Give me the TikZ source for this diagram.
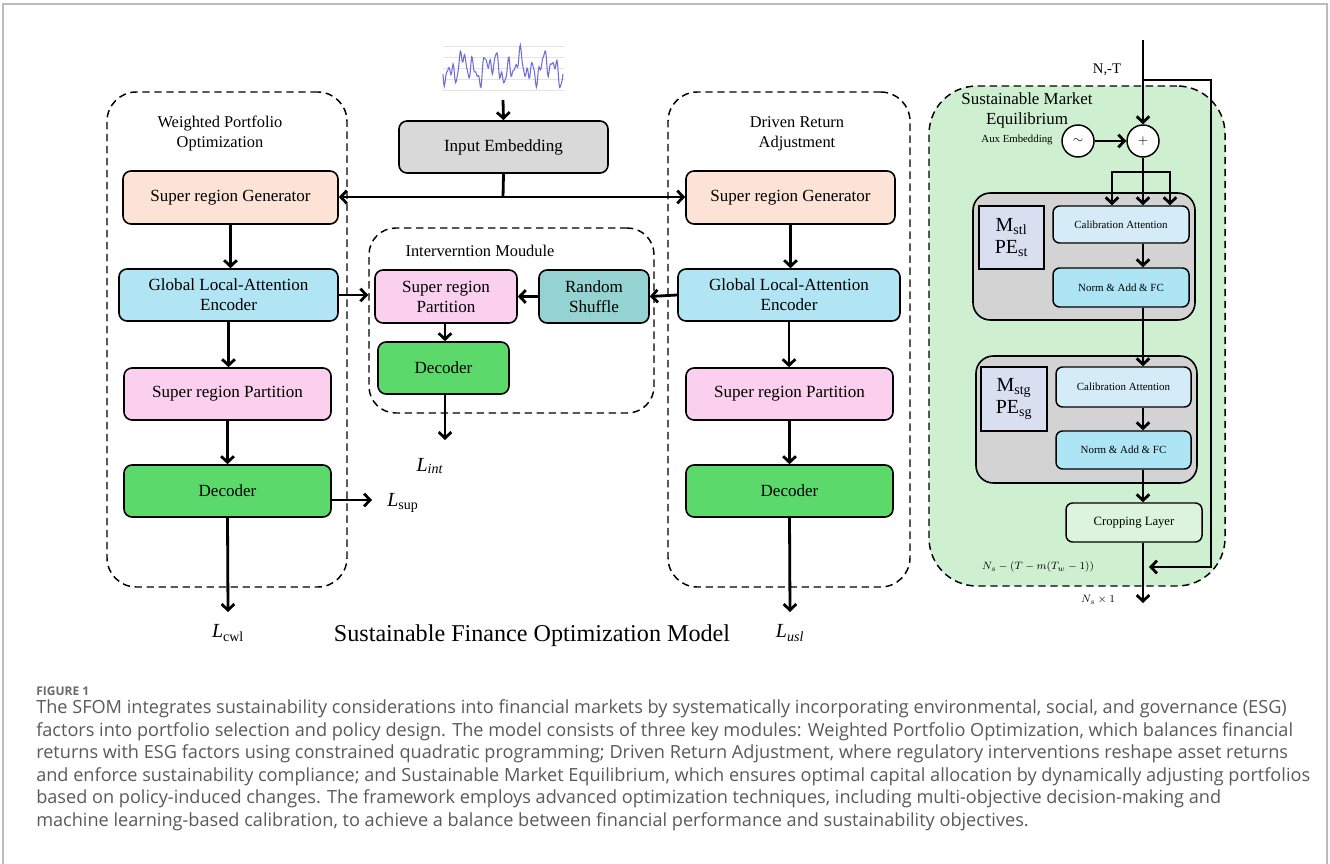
\documentclass[tikz,border=0pt]{standalone}
\usepackage{fontspec}
\setmainfont{Liberation Serif}
\newfontfamily\capfont{Open Sans}
\usetikzlibrary{arrows.meta,calc}
\definecolor{cPeach}{HTML}{FDE2D6}
\definecolor{cEnc}{HTML}{B1E5F4}
\definecolor{cPink}{HTML}{FBD0EF}
\definecolor{cDec}{HTML}{5BD96B}
\definecolor{cTeal}{HTML}{94D3D1}
\definecolor{cInp}{HTML}{D9D9D9}
\definecolor{cGreenBg}{HTML}{CEF0D0}
\definecolor{cGrayMod}{HTML}{D3D3D3}
\definecolor{cCal}{HTML}{D5EBF7}
\definecolor{cNorm}{HTML}{ADE5F4}
\definecolor{cMbox}{HTML}{D9DFF0}
\definecolor{cCrop}{HTML}{DCF3DC}
\definecolor{cPlot}{HTML}{6E6ED8}
\definecolor{cCap}{HTML}{595959}
\definecolor{cFrame}{HTML}{BBBBBB}
\tikzset{
  sz/.style 2 args={minimum width=#1*0.75pt, minimum height=#2*0.75pt},
  box/.style={draw, line width=1.2pt, rounded corners=6pt, inner sep=0pt, align=center,
    font=\fontsize{12.8}{15}\selectfont},
  smallbox/.style={draw, line width=1.1pt, rounded corners=5pt, inner sep=0pt, align=center,
    font=\fontsize{8.2}{10}\selectfont},
  modbox/.style={draw, line width=1.2pt, rounded corners=13pt, inner sep=0pt, fill=cGrayMod},
  dbox/.style={draw, line width=1.1pt, dash pattern=on 5.5pt off 3.5pt, rounded corners=22pt, inner sep=0pt},
  ttl/.style={align=center, font=\fontsize{12.3}{15}\selectfont, inner sep=0pt},
  arr/.style={line width=2.1pt, -{Straight Barb[length=4.5pt,width=9.5pt]}},
  ln/.style={line width=2.1pt},
  circ/.style={draw, circle, line width=1.1pt, fill=white, inner sep=0pt, minimum size=24pt},
  lbl/.style={font=\fontsize{15}{17}\selectfont, inner sep=0pt},
  captxt/.style={font=\capfont\fontsize{13.6}{16}\selectfont, text=cCap, inner sep=0pt, anchor=west}
}
\begin{document}
\begin{tikzpicture}[x=0.75pt,y=-0.75pt]
\useasboundingbox (0,0) rectangle (1330,863);
\draw[cFrame, line width=0.8pt] (3,870) -- (3,4) -- (1327,4) -- (1327,870);

% ---- dashed modules ----
\node[dbox, sz={240}{495}] (lmod) at (227,339.5) {};
\node[dbox, sz={242}{495}] (rmod) at (789,339.5) {};
\node[dbox, sz={285}{185}, rounded corners=20pt] (imod) at (511.5,320.5) {};
\node[dbox, sz={296}{500}, fill=cGreenBg, rounded corners=36pt] (gmod) at (1077,336) {};

\node[ttl] (ltitle) at (220,133) {Weighted Portfolio\\Optimization};
\node[ttl] (rtitle) at (797,134) {Driven Return\\Adjustment};
\node[ttl] (ititle) at (480,251) {Interverntion Moudule};
\node[ttl, font=\fontsize{12.7}{15}\selectfont] (gtitle) at (1027,110) {Sustainable Market\\Equilibrium};

% ---- input signal plot ----
\foreach \gy in {46,57,68,79,90} \draw[gray!22, line width=0.4pt] (443,\gy) -- (565,\gy);
\draw[cPlot, line width=0.8pt] plot[domain=0:120, samples=181]
  ({443+\x}, {68 + 7*sin(\x*13) + 8*sin(\x*31+40) + 6*sin(\x*59+10) + 3*sin(\x*97)});
\coordinate (plotb) at (503,100);

% ---- centre ----
\node[box, fill=cInp, sz={209}{52}] (inemb) at (503.5,147) {Input Embedding};
\coordinate (split) at (503,197);

% ---- left column ----
\node[box, fill=cPeach, sz={215}{53}] (lgen) at (230.5,197.5) {Super region Generator};
\node[box, fill=cEnc, sz={219}{52}] (lenc) at (228.5,295) {Global Local-Attention\\Encoder};
\node[box, fill=cPink, sz={207}{52}] (lpart) at (227.5,394) {Super region Partition};
\node[box, fill=cDec, sz={207}{52}] (ldec) at (227.5,491) {Decoder};

% ---- right column ----
\node[box, fill=cPeach, sz={209}{53}] (rgen) at (790.5,197.5) {Super region Generator};
\node[box, fill=cEnc, sz={222}{52}] (renc) at (789,295) {Global Local-Attention\\Encoder};
\node[box, fill=cPink, sz={207}{52}] (rpart) at (789.5,394) {Super region Partition};
\node[box, fill=cDec, sz={207}{52}] (rdec) at (789.5,491) {Decoder};

% ---- intervention ----
\node[box, fill=cPink, sz={142}{53}] (ipart) at (446,296.5) {Super region\\Partition};
\node[box, fill=cTeal, sz={110}{53}] (ishuf) at (594,296.5) {Random\\Shuffle};
\node[box, fill=cDec, sz={131}{52}] (idec) at (443.5,368) {Decoder};

% ---- labels ----
\coordinate (lcwl) at (228,612);
\coordinate (lusl) at (790,612);
\coordinate (lint) at (445,440);
\coordinate (lsup) at (372,500);
\node[lbl] (tcwl) at (228,633) {\textit{L}\textsubscript{cwl}};
\node[lbl] (tusl) at (790,633) {\textit{L}\textsubscript{\textit{usl}}};
\node[lbl] (tint) at (430,466) {\textit{L}\textsubscript{\textit{int}}};
\node[lbl, anchor=west] (tsup) at (387,503) {\textit{L}\textsubscript{sup}};
\node[inner sep=0pt, font=\fontsize{18.1}{20}\selectfont] (mtitle) at (532,636) {Sustainable Finance Optimization Model};

% ---- arrows main ----
\draw[arr] (plotb) -- (inemb.north);
\draw[ln] (inemb.south) -- (split);
\draw[arr] (split) -- (split -| lgen.east);
\draw[arr] (split) -- (split -| rgen.west);
\draw[arr] (lgen.south) -- (lgen.south |- lenc.north);
\draw[arr] (lenc.south) -- (lenc.south |- lpart.north);
\draw[arr] (lpart.south) -- (lpart.south |- ldec.north);
\draw[arr] (ldec.south) -- (lcwl);
\draw[arr] (ldec.east |- lsup) -- (lsup);
\draw[arr] (rgen.south) -- (rgen.south |- renc.north);
\draw[arr] (renc.south) -- (renc.south |- rpart.north);
\draw[arr] (rpart.south) -- (rpart.south |- rdec.north);
\draw[arr] (rdec.south) -- (lusl);
\draw[arr] (lenc.east) -- (lenc.east -| imod.west);
\draw[arr] (renc.west) -- (ishuf.east);
\draw[arr] (ishuf.west) -- (ipart.east);
\draw[arr] (ipart.south -| lint) -- (idec.north -| lint);
\draw[arr] (idec.south -| lint) -- (lint);

% ---- sustainable market equilibrium ----
\node[circ] (tilde) at (1078,141) {$\sim$};
\node[circ] (plus) at (1143,141) {$+$};
\node[inner sep=0pt, font=\fontsize{8.1}{10}\selectfont] (aux) at (1017,140) {Aux Embedding};
\node[inner sep=0pt, font=\fontsize{11}{13}\selectfont] (nt) at (1107,70) {N,-T};

\node[modbox, sz={222}{127}] (g1) at (1084,256.5) {};
\node[smallbox, fill=cCal, sz={136}{37}] (cal1) at (1121,224.5) {Calibration Attention};
\node[smallbox, fill=cNorm, sz={136}{39}] (norm1) at (1121,287.5) {Norm \& Add \& FC};
\node[draw, line width=1.1pt, fill=cMbox, sz={65}{63}, inner sep=0pt, align=center,
  font=\fontsize{15}{17}\selectfont] (m1) at (1011.5,237.5) {M\textsubscript{stl}\\PE\textsubscript{st}};

\node[modbox, sz={221}{127}] (g2) at (1086.5,419.5) {};
\node[smallbox, fill=cCal, sz={135}{40}] (cal2) at (1123.5,387) {Calibration Attention};
\node[smallbox, fill=cNorm, sz={135}{38}] (norm2) at (1123.5,450) {Norm \& Add \& FC};
\node[draw, line width=1.1pt, fill=cMbox, sz={66}{64}, inner sep=0pt, align=center,
  font=\fontsize{15}{17}\selectfont] (m2) at (1014,399) {M\textsubscript{stg}\\PE\textsubscript{sg}};

\node[smallbox, fill=cCrop, sz={136}{39}, font=\fontsize{9.5}{11}\selectfont] (crop) at (1134,522.5) {Cropping Layer};

\coordinate (in) at (1143,40);
\coordinate (br1) at (1211,80);
\coordinate (br2) at (1211,567);
\coordinate (brend) at (1149,567);
\coordinate (sp) at (1143,172);
\coordinate (spl) at (1112,172);
\coordinate (spr) at (1170,172);
\coordinate (out) at (1143,603);
\coordinate (vx) at (1143,0);

\draw[arr] (in) -- (plus.north);
\draw[arr] (in |- br1) -- (br1) -- (br2) -- (brend);
\draw[arr] (tilde.east) -- (plus.west);
\draw[arr] (plus.south) -- (sp |- cal1.north);
\draw[arr] (sp) -- (spl) -- (spl |- cal1.north);
\draw[arr] (sp) -- (spr) -- (spr |- cal1.north);
\draw[arr] (vx |- cal1.south) -- (vx |- norm1.north);
\draw[arr] (vx |- norm1.south) -- (vx |- cal2.north);
\draw[arr] (vx |- cal2.south) -- (vx |- norm2.north);
\draw[arr] (vx |- norm2.south) -- (vx |- crop.north);
\draw[arr] (vx |- crop.south) -- (out);

\node[inner sep=0pt, font=\fontsize{8.5}{10}\selectfont] (eq1) at (1038,567) {$N_s-(T-m(T_w-1))$};
\node[inner sep=0pt, font=\fontsize{8.5}{10}\selectfont] (eq2) at (1098,600) {$N_s\times 1$};

% ---- caption ----
\node[captxt, font=\capfont\bfseries\fontsize{9}{10}\selectfont, text=cCap!90] (fig) at (36,691) {FIGURE 1};
\node[captxt] (c1) at (36,709) {The SFOM integrates sustainability considerations into financial markets by systematically incorporating environmental, social, and governance (ESG)};
\node[captxt] (c2) at (36,731.5) {factors into portfolio selection and policy design. The model consists of three key modules: Weighted Portfolio Optimization, which balances financial};
\node[captxt] (c3) at (36,754) {returns with ESG factors using constrained quadratic programming; Driven Return Adjustment, where regulatory interventions reshape asset returns};
\node[captxt] (c4) at (36,776.5) {and enforce sustainability compliance; and Sustainable Market Equilibrium, which ensures optimal capital allocation by dynamically adjusting portfolios};
\node[captxt] (c5) at (36,799) {based on policy-induced changes. The framework employs advanced optimization techniques, including multi-objective decision-making and};
\node[captxt] (c6) at (36,821.5) {machine learning-based calibration, to achieve a balance between financial performance and sustainability objectives.};
\end{tikzpicture}
\end{document}
